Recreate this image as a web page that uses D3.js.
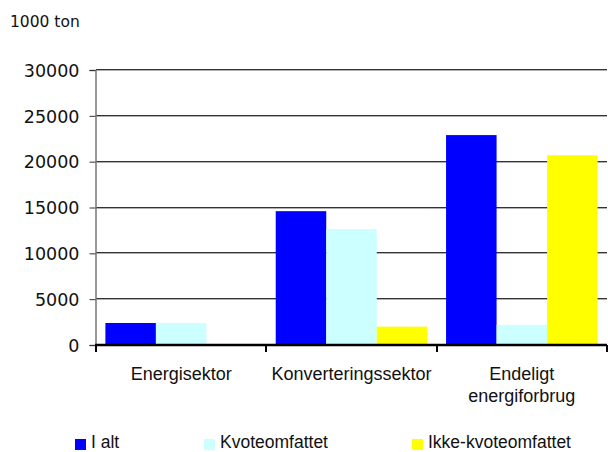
<!DOCTYPE html>
<html>
<head>
<meta charset="utf-8">
<script src="https://cdn.jsdelivr.net/npm/d3@7"></script>
<style>
  html, body { margin: 0; padding: 0; background: #fff; }
  svg { display: block; }
</style>
</head>
<body>
<script>
const categories = [["Energisektor"], ["Konverteringssektor"], ["Endeligt", "energiforbrug"]];
const seriesNames = ["I alt", "Kvoteomfattet", "Ikke-kvoteomfattet"];
const seriesColors = ["#0000FF", "#CCFFFF", "#FFFF00"];
const iAlt = [2400, 14600, 22900];
const kvoteomfattet = [2400, 12650, 2200];
const ikkeKvoteomfattet = [0, 2000, 20700];
const yTicks = [0, 5000, 10000, 15000, 20000, 25000, 30000];
const unitLabel = "1000 ton";

(function () {
const seriesValues = [iAlt, kvoteomfattet, ikkeKvoteomfattet];
const W = 608, H = 452;
const pLeft = 96, pRight = 607, pTop = 70, pBottom = 345;

const svg = d3.select("body").append("svg").attr("width", W).attr("height", H);

const catKeys = categories.map((c, i) => i);
const x0 = d3.scaleBand().domain(catKeys).range([pLeft, pRight]).paddingInner(0).paddingOuter(0);
const x1 = d3.scaleBand().domain(d3.range(seriesNames.length)).range([0, x0.bandwidth()]).paddingInner(0).paddingOuter(0.186);
const y = d3.scaleLinear().domain([0, 30000]).range([pBottom, pTop]);

// gridlines
const grid = svg.append("g");
yTicks.filter(t => t > 0).forEach(t => {
  const yy = Math.round(y(t));
  grid.append("line").attr("x1", pLeft).attr("x2", pRight).attr("y1", yy - 0.5).attr("y2", yy - 0.5)
    .attr("stroke", "#333").attr("stroke-width", 1);
  grid.append("line").attr("x1", pLeft).attr("x2", pRight).attr("y1", yy + 0.5).attr("y2", yy + 0.5)
    .attr("stroke", "#b0b0b0").attr("stroke-width", 1);
});

// bars
const gCat = svg.append("g").selectAll("g").data(catKeys).join("g")
  .attr("transform", d => `translate(${x0(d)},0)`);
gCat.selectAll("rect").data(ci => seriesValues.map((vals, si) => ({si, v: vals[ci]})))
  .join("rect")
  .attr("x", d => x1(d.si))
  .attr("width", x1.bandwidth())
  .attr("y", d => y(d.v))
  .attr("height", d => y(0) - y(d.v))
  .attr("fill", d => seriesColors[d.si]);

// y axis
const yAxis = d3.axisLeft(y).tickValues(yTicks).tickSize(6).tickPadding(10).tickFormat(d3.format("d"));
const gy = svg.append("g").attr("transform", `translate(${pLeft - 0.5},0)`).call(yAxis);
gy.select(".domain").attr("stroke", "#777").attr("stroke-width", 1.5);
gy.selectAll(".tick line").attr("stroke", "#333");
gy.selectAll(".tick text").attr("font-family", "DejaVu Sans, Verdana, sans-serif").attr("font-size", "17.5px").attr("fill", "#111").attr("dy", "0.36em");

// x axis
const xEdges = catKeys.map(k => x0(k)).concat([pRight]);
const gx = svg.append("g");
gx.append("line").attr("x1", pLeft - 1).attr("x2", pRight).attr("y1", pBottom).attr("y2", pBottom)
  .attr("stroke", "#000").attr("stroke-width", 2.5);
xEdges.forEach(xe => {
  gx.append("line").attr("x1", Math.round(xe)).attr("x2", Math.round(xe)).attr("y1", pBottom).attr("y2", pBottom + 7)
    .attr("stroke", "#000").attr("stroke-width", 2);
});
categories.forEach((lines, i) => {
  const cx = x0(i) + x0.bandwidth() / 2;
  const t = gx.append("text").attr("text-anchor", "middle").attr("font-family", "Liberation Sans, Arial, sans-serif")
    .attr("font-size", "18px").attr("fill", "#111");
  lines.forEach((ln, j) => t.append("tspan").attr("x", cx).attr("y", 380 + j * 22).text(ln));
});

// unit label
svg.append("text").attr("x", 10).attr("y", 27).attr("font-family", "DejaVu Sans, Verdana, sans-serif")
  .attr("font-size", "15.5px").attr("fill", "#111").text(unitLabel);

// legend
const legendX = [75, 204, 412];
const lg = svg.append("g");
seriesNames.forEach((name, i) => {
  lg.append("rect").attr("x", legendX[i]).attr("y", 439).attr("width", 11).attr("height", 11).attr("fill", seriesColors[i]);
  lg.append("text").attr("x", legendX[i] + 16).attr("y", 448).attr("font-family", "Liberation Sans, Arial, sans-serif")
    .attr("font-size", "17.5px").attr("fill", "#111").text(name);
});
})();
</script>
</body>
</html>
